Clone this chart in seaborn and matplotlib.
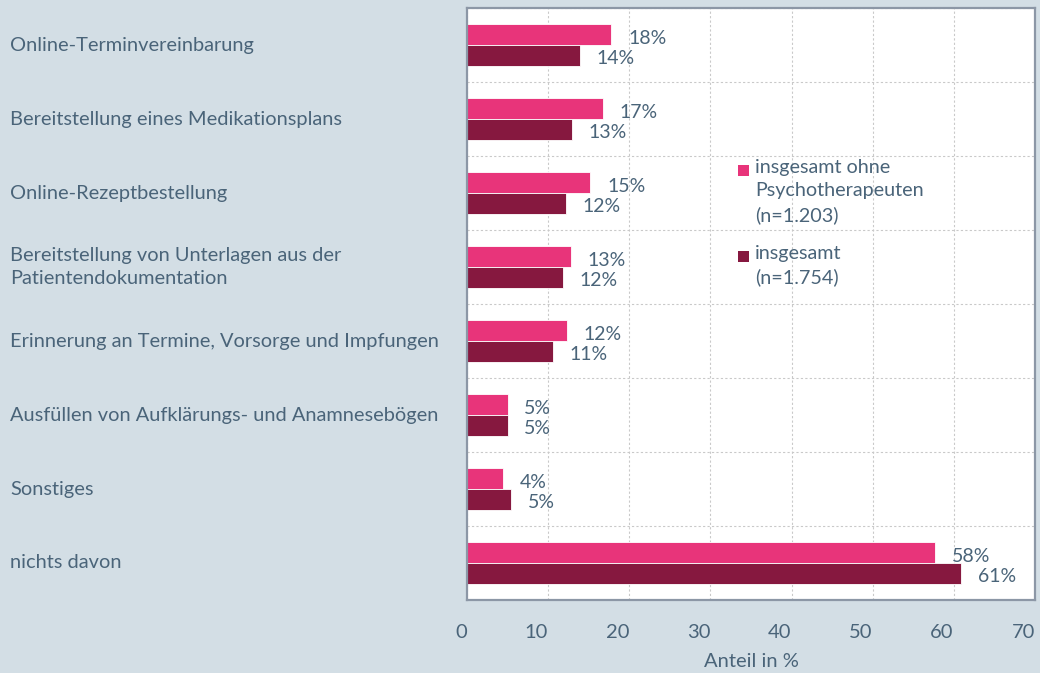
import seaborn as sns
import matplotlib.pyplot as plt
import matplotlib.transforms as mtransforms
from matplotlib.patches import Rectangle
import pandas as pd

categories = [
    "Online-Terminvereinbarung",
    "Bereitstellung eines Medikationsplans",
    "Online-Rezeptbestellung",
    "Bereitstellung von Unterlagen aus der\nPatientendokumentation",
    "Erinnerung an Termine, Vorsorge und Impfungen",
    "Ausfüllen von Aufklärungs- und Anamnesebögen",
    "Sonstiges",
    "nichts davon",
]
ohne_psy = [17.8, 16.7, 15.2, 12.8, 12.3, 5.0, 4.4, 57.7]
insgesamt = [13.9, 12.9, 12.2, 11.8, 10.6, 5.0, 5.4, 60.9]
ohne_labels = ["18%", "17%", "15%", "13%", "12%", "5%", "4%", "58%"]
ges_labels = ["14%", "13%", "12%", "12%", "11%", "5%", "5%", "61%"]
series = ["insgesamt ohne\nPsychotherapeuten\n(n=1.203)", "insgesamt\n(n=1.754)"]
x_ticks = [0, 10, 20, 30, 40, 50, 60, 70]

BG = "#d3dee5"
TXT = "#4a6479"
PINK = "#e8347a"
DARK = "#86183f"
SPINE = "#8c97a6"

df = pd.DataFrame({
    "Kategorie": categories * 2,
    "Wert": ohne_psy + insgesamt,
    "Gruppe": [series[0]] * len(categories) + [series[1]] * len(categories),
})

sns.set_style("white")
plt.rcParams["font.family"] = ["Lato", "DejaVu Sans"]

fig = plt.figure(figsize=(10.4, 6.73), dpi=100, facecolor=BG)
ax = fig.add_axes([467 / 1040, 1 - 600 / 673, (1035 - 467) / 1040, (600 - 8) / 673])
ax.set_facecolor("white")

sns.barplot(
    data=df, y="Kategorie", x="Wert", hue="Gruppe", orient="h",
    palette=[PINK, DARK], saturation=1, width=0.58, ax=ax, legend=False,
    edgecolor="white", linewidth=0.6,
)

ax.set_xlim(0, 70)
ax.set_ylim(len(categories) - 0.5, -0.5)
ax.set_xticks(x_ticks)
# labels sit slightly left of their ticks in the original
ax.set_xticklabels([str(t) for t in x_ticks], fontsize=14.5, color=TXT, ha="right")
bounds = [i - 0.5 for i in range(len(categories) + 1)]
ax.set_yticks(bounds)
ax.set_yticklabels([])
ax.tick_params(axis="y", length=6, width=1.5, color=SPINE, direction="out")
ax.tick_params(axis="x", length=5, width=1.5, color=SPINE, direction="out", pad=12)
ax.grid(True, color="#c9c9c9", linestyle=(0, (2, 2)), linewidth=0.8)
ax.set_axisbelow(True)
for s in ax.spines.values():
    s.set_color(SPINE)
    s.set_linewidth(1.6)

ax.set_ylabel("")
ax.set_xlabel("Anteil in %", fontsize=14.5, color=TXT, labelpad=9)

# value labels
for i in range(len(categories)):
    ax.annotate(ohne_labels[i], (ohne_psy[i], i - 0.145), xytext=(12, -3),
                textcoords="offset points", va="center", ha="left",
                fontsize=14, color=TXT)
    ax.annotate(ges_labels[i], (insgesamt[i], i + 0.145), xytext=(12, -2),
                textcoords="offset points", va="center", ha="left",
                fontsize=14, color=TXT)

# category labels, left aligned at the figure edge
trans = mtransforms.blended_transform_factory(fig.transFigure, ax.transData)
for i, c in enumerate(categories):
    fig.text(10 / 1040, i, c, transform=trans, ha="left", va="center",
             fontsize=14.4, color=TXT, linespacing=1.4)

# legend, square beside first line
leg_y = [1 - 170 / 673, 1 - 256 / 673]
for col, lab, y in zip([PINK, DARK], series, leg_y):
    fig.patches.append(Rectangle((738 / 1040, y - 6 / 673), 11 / 1040, 11 / 673,
                                 transform=fig.transFigure, facecolor=col,
                                 edgecolor="none", figure=fig))
    fig.text(755 / 1040, y + 11 / 673, lab, ha="left", va="top", fontsize=14.2,
             color=TXT, linespacing=1.45)

fig.savefig("out.png", dpi=100, facecolor=BG)
